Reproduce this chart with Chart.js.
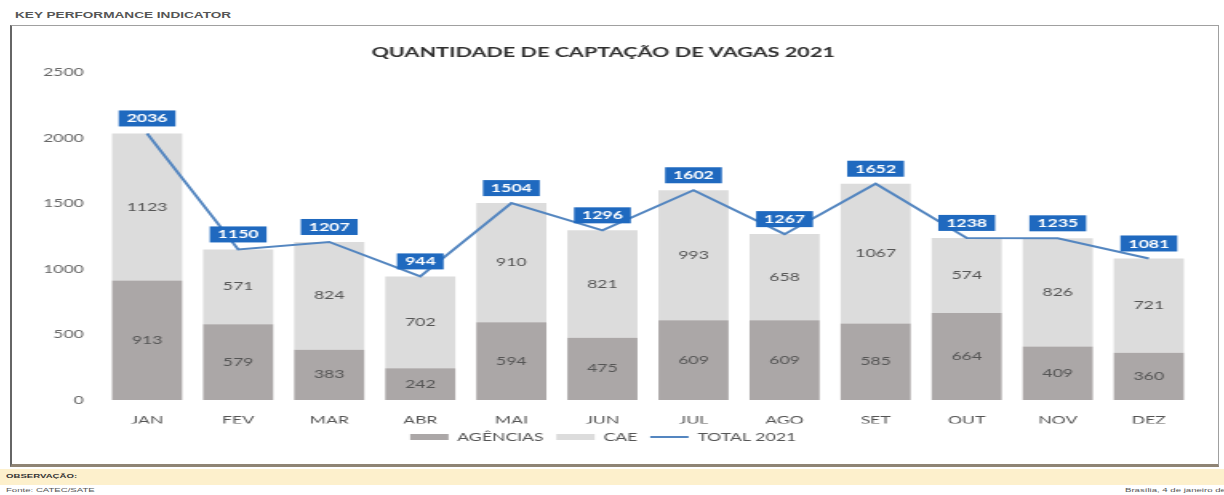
<!DOCTYPE html>
<html><head><meta charset="utf-8">
<script src="https://cdn.jsdelivr.net/npm/chart.js@4/dist/chart.umd.min.js"></script>
<style>
html,body{margin:0;padding:0;background:#fff;width:1224px;height:495px;overflow:hidden;position:relative;font-family:Lato,sans-serif}
.sx{position:absolute;transform:scaleX(1.6);transform-origin:0 0;white-space:nowrap}
#hdr{left:15px;top:10px;font:bold 8.5px 'Liberation Sans',Arial,sans-serif;color:#555}
#frame{position:absolute;left:10px;top:25px;width:1206px;height:438px;border-top:1px solid #a0a0a0;border-right:1px solid #a0a0a0;border-left:2px solid #666;border-bottom:3px solid #8f8474;background:#fff}
#cv{position:absolute;left:12px;top:28px;transform:scaleX(1.6);transform-origin:0 0}
#obs{position:absolute;left:0;top:469px;width:1224px;height:16px;background:#fdf0cc}
#obst{left:6px;top:473px;font:bold 6px 'Liberation Sans',Arial,sans-serif;color:#333}
#src{left:6px;top:487px;font:6px 'Liberation Sans',Arial,sans-serif;color:#555}
#dt{left:1125px;top:487px;font:6px 'Liberation Sans',Arial,sans-serif;color:#555}
</style></head>
<body>
<div id="hdr" class="sx">KEY PERFORMANCE INDICATOR</div>
<div id="frame"></div>
<canvas id="cv" width="752" height="436"></canvas>
<div id="obs"></div>
<div id="obst" class="sx">OBSERVAÇÃO:</div>
<div id="src" class="sx">Fonte: CATEC/SATE</div>
<div id="dt" class="sx">Brasília, 4 de janeiro de 2022</div>
<script>
const months = ['JAN','FEV','MAR','ABR','MAI','JUN','JUL','AGO','SET','OUT','NOV','DEZ'];
const agencias = [913,579,383,242,594,475,609,609,585,664,409,360];
const cae = [1123,571,824,702,910,821,993,658,1067,574,826,721];
const total2021 = [2036,1150,1207,944,1504,1296,1602,1267,1652,1238,1235,1081];
const yTicks = [0,500,1000,1500,2000,2500];

const labelPlugin = {
  id: 'valLabels',
  afterDatasetsDraw(chart) {
    const ctx = chart.ctx;
    ctx.save();
    ctx.textAlign = 'center';
    ctx.textBaseline = 'middle';
    [0,1].forEach(di => {
      const meta = chart.getDatasetMeta(di);
      const data = chart.data.datasets[di].data;
      ctx.font = '11px Lato, sans-serif';
      ctx.fillStyle = '#555555';
      meta.data.forEach((el, i) => {
        const p = el.getProps(['x','y','base'], true);
        ctx.fillText(String(data[i]), p.x, (p.y + p.base) / 2);
      });
    });
    const lm = chart.getDatasetMeta(2);
    const ld = chart.data.datasets[2].data;
    ctx.font = 'bold 11px Lato, sans-serif';
    lm.data.forEach((el, i) => {
      const p = el.getProps(['x','y'], true);
      const t = String(ld[i]);
      const w = ctx.measureText(t).width + 10;
      const h = 16;
      const cy = p.y - 15;
      ctx.fillStyle = '#1f69bf';
      ctx.fillRect(p.x - w/2, cy - h/2, w, h);
      ctx.fillStyle = '#ffffff';
      ctx.fillText(t, p.x, cy + 0.5);
    });
    ctx.restore();
  }
};

new Chart(document.getElementById('cv'), {
  type: 'bar',
  data: {
    labels: months,
    datasets: [
      { label: 'AGÊNCIAS', data: agencias, backgroundColor: '#aba7a7', borderWidth: 0, stack: 's', pointStyle: 'rect', order: 1 },
      { label: 'CAE', data: cae, backgroundColor: '#dcdcdc', borderWidth: 0, stack: 's', pointStyle: 'rect', order: 1 },
      { type: 'line', label: 'TOTAL 2021', data: total2021, borderColor: '#5486c0', backgroundColor: '#5486c0', borderWidth: 2, pointRadius: 0, pointStyle: 'line', tension: 0, stack: 't', order: 0 }
    ]
  },
  options: {
    responsive: false,
    animation: false,
    devicePixelRatio: 1,
    layout: { padding: { left: 0, right: 13, top: 0, bottom: 11.5 } },
    datasets: { bar: { categoryPercentage: 1, barPercentage: 0.77 } },
    scales: {
      x: {
        stacked: true,
        afterFit: s => { s.height = 23.5; },
        grid: { display: false, drawTicks: false },
        border: { display: false },
        ticks: { color: '#555', font: { family: 'Lato', size: 11 }, padding: 14 }
      },
      y: {
        stacked: true,
        min: 0, max: 2500,
        afterBuildTicks: s => { s.ticks = yTicks.map(v => ({ value: v })); },
        afterFit: s => { s.width = 56; },
        grid: { display: false, drawTicks: false },
        border: { display: false },
        ticks: { color: '#666', font: { family: 'Lato', size: 11 }, padding: 11, callback: v => String(v) }
      }
    },
    plugins: {
      title: { display: true, text: 'QUANTIDADE DE CAPTAÇÃO DE VAGAS 2021', color: '#2f2f2f', font: { family: 'Lato', size: 13.5, weight: 'bold' }, padding: { top: 17, bottom: 11.5 } },
      legend: {
        position: 'bottom',
        labels: {
          usePointStyle: true, pointStyleWidth: 24, boxHeight: 6, padding: 8,
          color: '#555', font: { family: 'Lato', size: 11 },
          sort: (a, b) => a.datasetIndex - b.datasetIndex
        }
      },
      tooltip: { enabled: false }
    }
  },
  plugins: [labelPlugin]
});
</script>
</body></html>
